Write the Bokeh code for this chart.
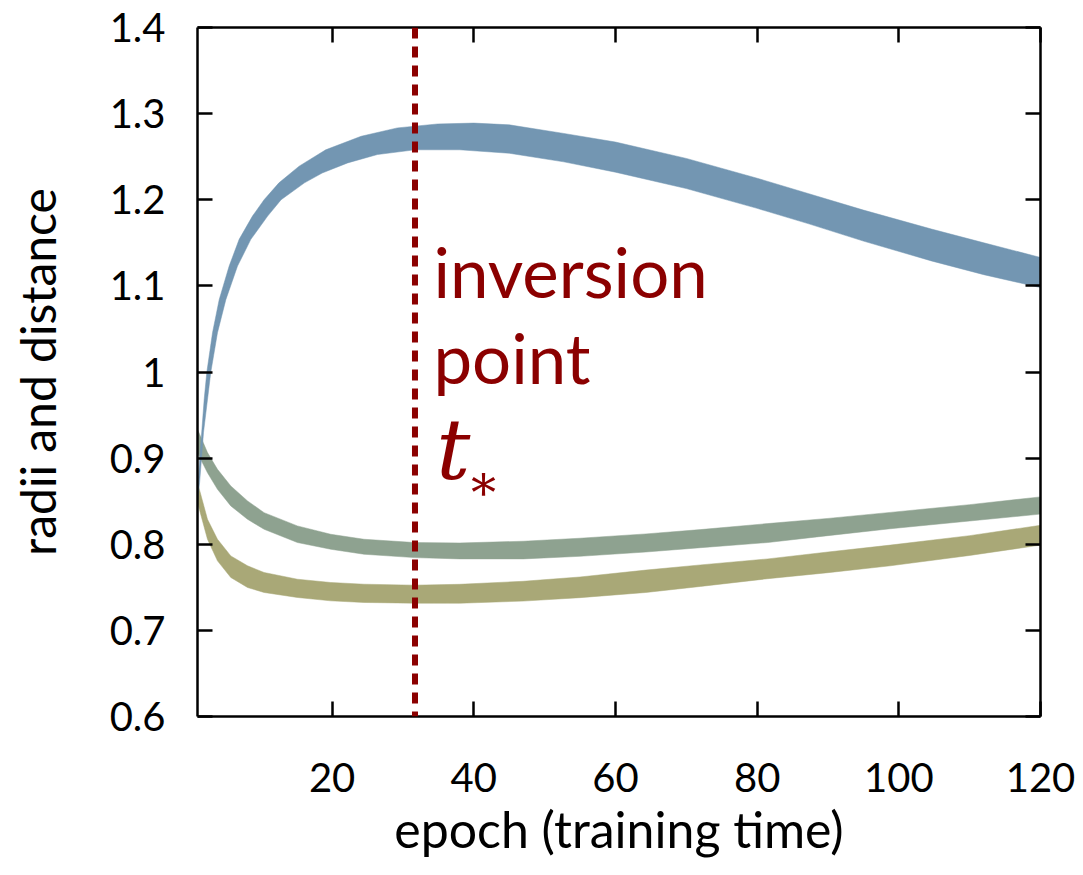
from bokeh.plotting import figure
from bokeh.models import LinearAxis, FixedTicker, Span, Label, Range1d
from bokeh.embed import file_html
from bokeh.resources import INLINE

# ---------------- data ----------------
x_ticks = [20, 40, 60, 80, 100, 120]
x_tick_labels = ["20", "40", "60", "80", "100", "120"]
y_ticks = [0.6, 0.7, 0.8, 0.9, 1.0, 1.1, 1.2, 1.3, 1.4]
y_tick_labels = ["0.6", "0.7", "0.8", "0.9", "1", "1.1", "1.2", "1.3", "1.4"]

t_star = 31.7

# blue band (upper / lower edges)
blue_upper_x = [1.0, 1.24, 1.94, 2.32, 3.12, 4.06, 5.47, 6.88, 8.76, 10.4, 12.5, 15.35, 19.1, 24.1, 29.2, 34.9, 40, 45, 52.7, 60, 70, 80, 87.3, 95, 104.6, 112, 120]
blue_upper_y = [0.86, 0.891, 0.968, 1.0, 1.0456, 1.084, 1.123, 1.154, 1.181, 1.2, 1.2196, 1.239, 1.258, 1.2737, 1.2834, 1.288, 1.289, 1.287, 1.277, 1.267, 1.248, 1.225, 1.207, 1.188, 1.166, 1.150, 1.133]
blue_lower_x = [1.0, 1.3, 1.85, 2.41, 2.88, 3.82, 5.0, 6.65, 8.53, 10.9, 12.8, 16.1, 18.6, 22.2, 26.4, 31.7, 38, 45, 52.7, 60, 70, 80, 87.3, 95, 104.6, 112, 120]
blue_lower_y = [0.85, 0.872, 0.93, 0.968, 1.0, 1.0456, 1.084, 1.123, 1.154, 1.181, 1.2, 1.2196, 1.231, 1.2428, 1.2525, 1.258, 1.258, 1.254, 1.244, 1.232, 1.213, 1.190, 1.172, 1.152, 1.129, 1.113, 1.098]

band_x = [1.0, 2.41, 3.82, 5.7, 8.06, 10.4, 15.1, 19.8, 24.5, 31.6, 38, 47, 55, 64.3, 72, 81.5, 90, 98.8, 110, 120]
green_upper = [0.9334, 0.9064, 0.887, 0.8677, 0.8503, 0.8367, 0.8213, 0.8116, 0.8058, 0.802, 0.8015, 0.8035, 0.807, 0.812, 0.817, 0.824, 0.830, 0.837, 0.846, 0.855]
green_lower = [0.906, 0.883, 0.8638, 0.8445, 0.829, 0.8174, 0.802, 0.7942, 0.7884, 0.7845, 0.783, 0.783, 0.786, 0.791, 0.796, 0.802, 0.810, 0.818, 0.827, 0.835]
olive_upper = [0.8716, 0.829, 0.8058, 0.7865, 0.775, 0.7672, 0.7594, 0.7556, 0.7536, 0.7525, 0.7535, 0.757, 0.762, 0.770, 0.776, 0.783, 0.791, 0.799, 0.810, 0.822]
olive_lower = [0.8484, 0.8058, 0.7807, 0.7614, 0.7498, 0.744, 0.7382, 0.7343, 0.7324, 0.7316, 0.7315, 0.734, 0.738, 0.744, 0.751, 0.760, 0.767, 0.775, 0.787, 0.799]

# ---------------- styles ----------------
FONT = "Lato"
BLUE = "#7396b2"
GREEN = "#8ea290"
OLIVE = "#a9a877"
RED = "#8b0000"

p = figure(frame_width=843, frame_height=689,
           x_range=Range1d(1, 120), y_range=Range1d(0.6, 1.4),
           output_backend="svg", toolbar_location=None,
           x_axis_location=None, y_axis_location=None,
           min_border_left=197, min_border_right=35,
           min_border_top=27, min_border_bottom=151,
           background_fill_color="white", border_fill_color="white")
p.grid.visible = False
p.outline_line_color = None


def style_axis(ax, show_labels):
    ax.axis_line_width = 2.5
    ax.axis_line_color = "black"
    ax.major_tick_line_width = 2.5
    ax.major_tick_line_color = "black"
    ax.major_tick_in = 15
    ax.major_tick_out = 0
    ax.minor_tick_line_color = None
    ax.major_label_text_font = FONT
    ax.major_label_text_font_size = "40px"
    ax.major_label_text_color = "black"
    ax.axis_label_text_font = FONT
    ax.axis_label_text_font_style = "normal"
    ax.axis_label_text_color = "black"
    if not show_labels:
        ax.major_label_text_alpha = 0
        ax.major_label_text_font_size = "1px"


xb = LinearAxis(ticker=FixedTicker(ticks=x_ticks), axis_label="epoch (training time)")
style_axis(xb, True)
xb.axis_label_text_font_size = "50px"
xb.major_label_overrides = dict(zip(x_ticks, x_tick_labels))
xb.major_label_standoff = 46
xb.axis_label_standoff = 4
p.add_layout(xb, "below")

yl = LinearAxis(ticker=FixedTicker(ticks=y_ticks), axis_label="radii and distance")
style_axis(yl, True)
yl.axis_label_text_font_size = "48px"
yl.major_label_overrides = dict(zip(y_ticks, y_tick_labels))
yl.major_label_standoff = 32
yl.axis_label_standoff = 41
p.add_layout(yl, "left")

xt = LinearAxis(ticker=FixedTicker(ticks=x_ticks))
style_axis(xt, False)
xt.major_label_standoff = 0
p.add_layout(xt, "above")

yr = LinearAxis(ticker=FixedTicker(ticks=y_ticks))
style_axis(yr, False)
yr.major_label_standoff = 0
p.add_layout(yr, "right")

# bands
p.patch(x=band_x + band_x[::-1], y=olive_upper + olive_lower[::-1],
        fill_color=OLIVE, line_color=OLIVE, line_width=0.5)
p.patch(x=band_x + band_x[::-1], y=green_upper + green_lower[::-1],
        fill_color=GREEN, line_color=GREEN, line_width=0.5)
p.patch(x=blue_upper_x + blue_lower_x[::-1], y=blue_upper_y + blue_lower_y[::-1],
        fill_color=BLUE, line_color=BLUE, line_width=0.5)

# inversion point
p.add_layout(Span(location=t_star, dimension="height", line_color=RED,
                  line_width=6, line_dash="11 8"))

p.add_layout(Label(x=t_star + 2.6, y=1.1166, text="inversion", text_font=FONT,
                   text_font_size="69px", text_color=RED, text_baseline="alphabetic"))
p.add_layout(Label(x=t_star + 2.6, y=1.017, text="point", text_font=FONT,
                   text_font_size="69px", text_color=RED, text_baseline="alphabetic"))
p.add_layout(Label(x=t_star + 3.0, y=0.91, text="t", text_font="DejaVu Serif",
                   text_font_style="italic", text_font_size="85px",
                   text_color=RED, text_baseline="alphabetic"))
p.add_layout(Label(x=t_star + 7.3, y=0.8716, text="\u2217", text_font="DejaVu Serif",
                   text_font_size="50px", text_color=RED, text_baseline="alphabetic"))

open("out.html", "w").write(file_html(p, INLINE))
